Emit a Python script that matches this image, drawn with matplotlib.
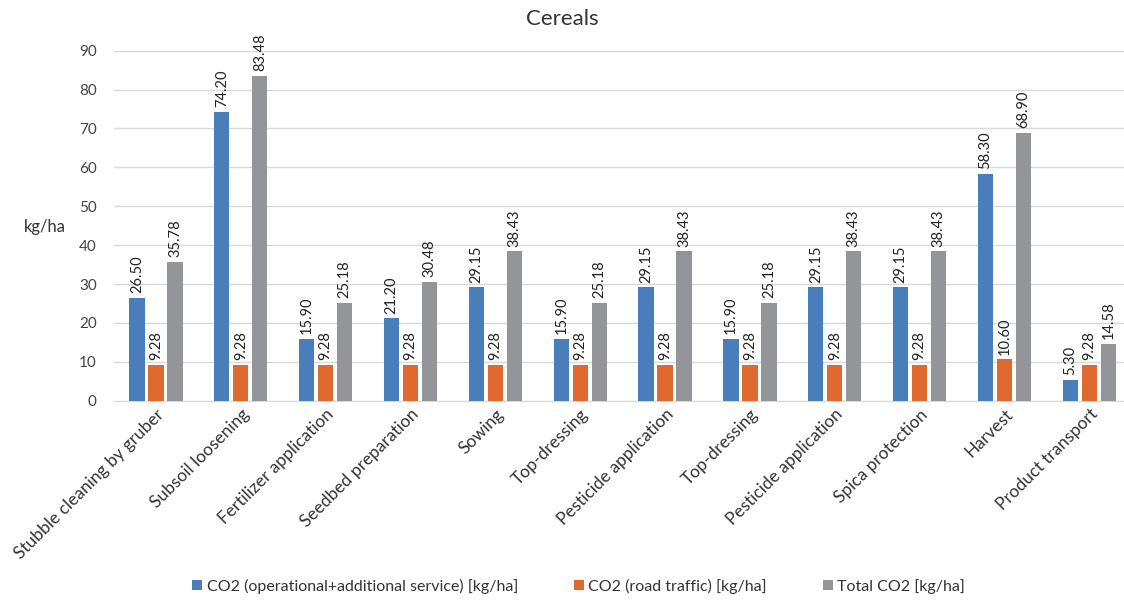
import matplotlib
matplotlib.use('Agg')
import matplotlib.pyplot as plt
import numpy as np

plt.rcParams['font.family'] = ['Lato', 'DejaVu Sans']

# Daten
categories = ['Stubble cleaning by gruber', 'Subsoil loosening', 'Fertilizer application',
              'Seedbed preparation', 'Sowing', 'Top-dressing', 'Pesticide application',
              'Top-dressing', 'Pesticide application', 'Spica protection', 'Harvest',
              'Product transport']
co2_operational = [26.50, 74.20, 15.90, 21.20, 29.15, 15.90, 29.15, 15.90, 29.15, 29.15, 58.30, 5.30]
co2_road = [9.28, 9.28, 9.28, 9.28, 9.28, 9.28, 9.28, 9.28, 9.28, 9.28, 10.60, 9.28]
co2_total = [35.78, 83.48, 25.18, 30.48, 38.43, 25.18, 38.43, 25.18, 38.43, 38.43, 68.90, 14.58]
series_names = ['CO2 (operational+additional service) [kg/ha]',
                'CO2 (road traffic) [kg/ha]',
                'Total CO2 [kg/ha]']
colors = ['#4A7EBB', '#E0692F', '#939598']

fig = plt.figure(figsize=(11.24, 6.05), dpi=100)
ax = fig.add_axes([0.101, 0.3377, 0.906, 0.5785])

x = np.arange(len(categories))
step = 0.224
width = 0.18
for i, (vals, name, col) in enumerate(zip([co2_operational, co2_road, co2_total], series_names, colors)):
    bars = ax.bar(x + (i - 1) * step, vals, width, color=col, label=name, zorder=3)
    # Werte über den Balken
    for bar, v in zip(bars, vals):
        ax.text(bar.get_x() + bar.get_width() / 2, v + 1.2, f'{v:.2f}',
                ha='center', va='bottom', rotation=90, fontsize=10.5, color='#222222')

ax.set_xlim(-0.5, len(categories) - 0.5)
ax.set_ylim(0, 90)
ax.set_yticks(range(0, 91, 10))
ax.tick_params(axis='y', length=0, labelsize=11, colors='#444444', pad=12)
ax.tick_params(axis='x', length=0, labelsize=12.5, colors='#333333', pad=4)
ax.set_xticks(x)
ax.set_xticklabels(categories, rotation=45, ha='right', rotation_mode='anchor')
ax.grid(axis='y', color='#D9D9D9', linewidth=1, zorder=0)
for s in ['top', 'right', 'left']:
    ax.spines[s].set_visible(False)
ax.spines['bottom'].set_color('#D9D9D9')

fig.text(0.04, 0.625, 'kg/ha', ha='center', va='center', fontsize=12, color='#333333')
fig.text(0.5, 0.968, 'Cereals', ha='center', va='center', fontsize=16, color='#333333')

fig.legend(loc='lower center', bbox_to_anchor=(0.515, -0.005), ncol=3, frameon=False,
           fontsize=11.5, handlelength=0.6, handleheight=0.6, handletextpad=0.3,
           columnspacing=3.5, labelcolor='#333333')

plt.savefig('out.png', dpi=100)
